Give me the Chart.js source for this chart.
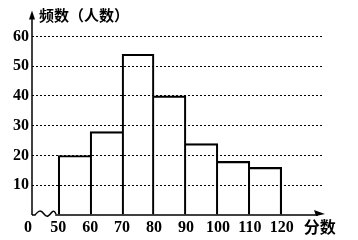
<!DOCTYPE html>
<html><head><meta charset="utf-8">
<script src="https://cdn.jsdelivr.net/npm/chart.js@4"></script>
<style>html,body{margin:0;padding:0;background:#fff}#w{width:358px;height:240px}</style>
</head><body><div id="w"><canvas id="c" width="358" height="240"></canvas></div>
<script>
const binStarts = [50, 60, 70, 80, 90, 100, 110];
const frequencies = [20, 28, 54, 40, 24, 18, 16];
const xTicks = [50, 60, 70, 80, 90, 100, 110, 120];
const yTicks = [0, 10, 20, 30, 40, 50, 60];
const yTitle = '频数（人数）';
const xTitle = '分数';

const numFont = {family: '"Liberation Serif", serif', size: 16, weight: 'bold'};

const deco = {
  id: 'deco',
  afterDraw(chart) {
    const c = chart.ctx, a = chart.chartArea;
    const x = chart.scales.x, y = chart.scales.y;
    const y0 = y.getPixelForValue(0);
    const x0 = a.left;
    c.save();
    c.strokeStyle = '#000'; c.fillStyle = '#000'; c.lineWidth = 1.5;
    // y axis
    c.beginPath(); c.moveTo(x0, y0); c.lineTo(x0, a.top + 4); c.stroke();
    c.beginPath(); c.moveTo(x0, a.top - 2); c.lineTo(x0 - 3, a.top + 7); c.lineTo(x0 + 3, a.top + 7); c.closePath(); c.fill();
    // x axis with break
    c.beginPath(); c.moveTo(x0, y0); c.lineTo(x0 + 3, y0);
    c.bezierCurveTo(x0 + 7, y0 - 5, x0 + 9, y0 - 5, x0 + 12, y0 - 1);
    c.bezierCurveTo(x0 + 15, y0 + 3, x0 + 17, y0 + 1, x0 + 20, y0 - 3);
    c.bezierCurveTo(x0 + 22, y0 - 5, x0 + 23, y0 - 3, x0 + 24, y0 - 1);
    c.stroke();
    const xs = x.getPixelForValue(50) - 3;
    c.beginPath(); c.moveTo(xs, y0); c.lineTo(a.right - 4, y0); c.stroke();
    c.beginPath(); c.moveTo(a.right + 3, y0 - 1); c.lineTo(a.right - 8, y0 - 5); c.lineTo(a.right - 6, y0 + 1); c.closePath(); c.fill();
    // texts
    c.font = 'bold ' + numFont.size + 'px ' + numFont.family;
    c.textAlign = 'right'; c.textBaseline = 'middle';
    c.fillText('0', x0, y0 + 13);
    c.font = 'bold 15px "Noto Sans CJK SC"';
    c.textAlign = 'left';
    c.fillText(yTitle, x0 + 7, a.top + 3);
    c.font = 'bold 16px "Noto Sans CJK SC"';
    c.fillText(xTitle, x.getPixelForValue(120) + 22, y0 + 12);
    c.restore();
  }
};

const last = frequencies.length - 1;
new Chart(document.getElementById('c'), {
  type: 'bar',
  data: {
    datasets: [{
      data: binStarts.map((s, i) => ({x: s + 5, y: frequencies[i]})),
      backgroundColor: 'rgba(255,255,255,0)', borderColor: '#000',
      borderWidth: ctx => {
        const i = ctx.dataIndex, v = frequencies;
        return {
          top: 1.5, bottom: 0,
          left: (i === 0 || v[i] >= v[i - 1]) ? 1.5 : 0,
          right: (i === last || v[i] > v[i + 1]) ? 1.5 : 0
        };
      },
      borderSkipped: false,
      barPercentage: 1, categoryPercentage: 1
    }]
  },
  plugins: [deco],
  options: {
    responsive: false, animation: false, devicePixelRatio: 1,
    layout: {padding: {top: 12, right: 36, left: 0, bottom: 0}},
    plugins: {legend: {display: false}, tooltip: {enabled: false}},
    scales: {
      x: {
        type: 'linear', min: 41.8, max: 132.6, offset: false,
        afterBuildTicks: s => { s.ticks = xTicks.map(v => ({value: v})); },
        afterFit: s => { s.height = 25; },
        grid: {display: false, drawTicks: false},
        border: {display: false},
        ticks: {color: '#000', font: numFont, padding: 3, maxRotation: 0, autoSkip: false}
      },
      y: {
        min: 0, max: 68,
        afterBuildTicks: s => { s.ticks = yTicks.map(v => ({value: v})); },
        afterFit: s => { s.width = 32; },
        grid: {
          color: c => (c.tick && c.tick.value > 0) ? '#000' : 'rgba(0,0,0,0)',
          lineWidth: 1, drawTicks: false
        },
        border: {display: false, dash: [2, 2]},
        ticks: {color: '#000', font: numFont, padding: 3,
          callback: v => v === 0 ? '' : String(v)}
      }
    }
  }
});
</script></body></html>
